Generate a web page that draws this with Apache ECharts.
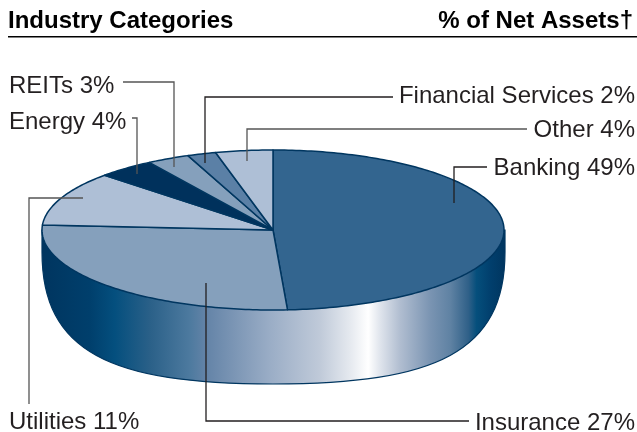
<!DOCTYPE html>
<html>
<head>
<meta charset="utf-8">
<style>
html, body { margin: 0; padding: 0; background: #fff; }
#main { width: 637px; height: 432px; }
</style>
<script src="https://cdn.jsdelivr.net/npm/echarts@6/dist/echarts.min.js"></script>
</head>
<body>
<div id="main"></div>
<script>
// data
var categories = ['Banking', 'Insurance', 'Utilities', 'Energy', 'REITs', 'Financial Services', 'Other']
var shares = [49, 27, 11, 4, 3, 2, 4]
var headerLeft = 'Industry Categories'
var headerRight = '% of Net Assets†'

// styles
var sliceColors = ['#33658f', '#85a0bc', '#aebfd6', '#00315c', '#85a0bc', '#5b80a6', '#aebfd6']
var edgeColor = '#003660'
var textColor = '#231f20'
// wall shading: x position on the page, colour
var wallStops = [
    [42, '#00355f'], [90, '#003f6c'], [115, '#044f7e'], [150, '#2a6088'], [190, '#4d7a9f'], [206, '#6383a7'],
    [270, '#9aadc6'], [320, '#c0cad9'], [350, '#e5e9ef'], [368, '#ffffff'], [380, '#dfe4ec'], [400, '#b0bdd0'],
    [430, '#7a94b2'], [450, '#5f82a3'], [468, '#2f6088'], [476, '#054f7c'], [490, '#013f6d'], [505, '#00355f']
]

// pie geometry
var cx = 273, cy = 230, rx = 231, ry = 80, depth = 74

// leader lines and label spots, in the same order as categories
var leaders = [
    [[454, 203], [454, 167], [487, 167]],
    [[206, 283], [206, 421], [469, 421]],
    [[83, 198], [29, 198], [29, 404]],
    [[137, 174], [137, 118], [132, 118]],
    [[174, 167], [174, 82], [123, 82]],
    [[205, 163], [205, 97], [393, 97]],
    [[247, 161], [247, 129], [527, 129]]
]
var leaderColors = ['#231f20', '#231f20', '#555555', '#555555', '#555555', '#231f20', '#555555']
var labelSpots = [
    [635, 168, 'right'], [635, 423, 'right'], [9, 422, 'left'], [9, 122, 'left'],
    [9, 86, 'left'], [635, 96, 'right'], [635, 130, 'right']
]

function sliceRange(i) {
    var total = shares.reduce(function (a, b) { return a + b }, 0)
    var before = shares.slice(0, i).reduce(function (a, b) { return a + b }, 0)
    return [before / total * Math.PI * 2, (before + shares[i]) / total * Math.PI * 2]
}

function ellipsePoint(a, y0) {
    return [cx + rx * Math.sin(a), y0 - ry * Math.cos(a)]
}

function renderSlice(params, api) {
    var i = params.dataIndex
    var range = sliceRange(i)
    var points = [[cx, cy]]
    var n = Math.ceil((range[1] - range[0]) * 60)
    for (var k = 0; k <= n; k++) {
        points.push(ellipsePoint(range[0] + (range[1] - range[0]) * k / n, cy))
    }
    return {
        type: 'polygon',
        shape: { points: points },
        style: { fill: sliceColors[i], stroke: edgeColor, lineWidth: 1.5, lineJoin: 'round' }
    }
}

function renderWall() {
    var l = cx - rx, r = cx + rx + 1, b = cy + ry + depth, s = cy + 22
    var path = 'M' + l + ' ' + cy + 'L' + l + ' ' + s +
        'C' + l + ' ' + (s + 100) + ' ' + (cx - 163) + ' ' + b + ' ' + cx + ' ' + b +
        'C' + (cx + 163) + ' ' + b + ' ' + r + ' ' + (s + 100) + ' ' + r + ' ' + s +
        'L' + r + ' ' + cy + 'Z'
    return {
        type: 'path',
        shape: { pathData: path },
        style: {
            fill: new echarts.graphic.LinearGradient(0, 0, 1, 0, wallStops.map(function (s) {
                return { offset: (s[0] - l) / (r - l), color: s[1] }
            })),
            stroke: edgeColor,
            lineWidth: 1.2
        }
    }
}

var graphics = [
    { type: 'text', x: 8, y: 21.5, style: { text: headerLeft, font: 'bold 24px "Liberation Sans"', fill: '#000', verticalAlign: 'middle' } },
    { type: 'text', x: 633, y: 21.5, style: { text: headerRight, font: 'bold 24px "Liberation Sans"', fill: '#000', align: 'right', verticalAlign: 'middle' } },
    { type: 'rect', shape: { x: 8, y: 36, width: 629, height: 1.5 }, style: { fill: '#000' } }
]
categories.forEach(function (name, i) {
    graphics.push({
        type: 'polyline', z: 10,
        shape: { points: leaders[i] },
        style: { stroke: leaderColors[i], lineWidth: 1.3, fill: null }
    })
    graphics.push({
        type: 'text', z: 10,
        x: labelSpots[i][0], y: labelSpots[i][1],
        style: {
            text: name + ' ' + shares[i] + '%',
            font: '24px "Liberation Sans"',
            fill: textColor,
            align: labelSpots[i][2],
            verticalAlign: 'middle'
        }
    })
})

var myChart = echarts.init(document.getElementById('main'))
myChart.setOption({
    animation: false,
    backgroundColor: '#fff',
    graphic: graphics,
    series: [
        { type: 'custom', z: 1, silent: true, coordinateSystem: 'none', data: [0], renderItem: renderWall },
        { type: 'custom', z: 2, silent: true, coordinateSystem: 'none', data: shares, renderItem: renderSlice }
    ]
})
</script>
</body>
</html>
